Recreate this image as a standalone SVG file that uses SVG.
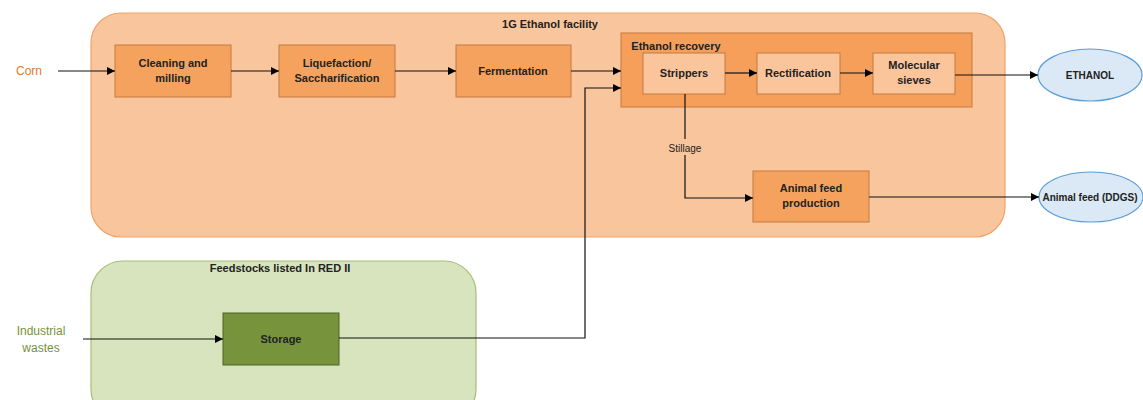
<svg xmlns="http://www.w3.org/2000/svg" width="1143" height="400" viewBox="0 0 1143 400">
<defs>
<marker id="ah" viewBox="0 0 10 10" refX="10" refY="5" markerWidth="10" markerHeight="8" markerUnits="userSpaceOnUse" orient="auto"><path d="M0,0 L10,5 L0,10 z" fill="#000"/></marker>
<style>
text{font-family:"Liberation Sans",Arial,sans-serif;font-size:11px;text-anchor:middle;fill:#222}
.b{font-weight:bold}
.proc{fill:#f5a25e;stroke:#c47a3e;stroke-width:1}
.sub{fill:#fbc59c;stroke:#c47a3e;stroke-width:1}
.ell{fill:#dae9f5;stroke:#5b9bd5;stroke-width:1.2}
.c{fill:none;stroke:#111;stroke-width:1.2;marker-end:url(#ah)}
.l{fill:none;stroke:#111;stroke-width:1.2}
</style>
</defs>
<rect width="1143" height="400" fill="#fff"/>
<g id="facility">
<rect x="91" y="13" width="914" height="224" rx="30" fill="#f9c59c" stroke="#f0a468" stroke-width="1.2"/>
<text x="550" y="28" class="b">1G Ethanol facility</text>
</g>
<g id="redii">
<rect x="91" y="261" width="385" height="160" rx="32" fill="#d7e4bd" stroke="#a6bd78" stroke-width="1.2"/>
<text x="280" y="272" class="b">Feedstocks listed In RED II</text>
</g>
<g id="corn"><text x="29" y="75" style="fill:#e07b2a;font-size:12px">Corn</text></g>
<g id="industrial"><text x="41" y="335" style="fill:#76923c;font-size:12px">Industrial</text><text x="41" y="352" style="fill:#76923c;font-size:12px">wastes</text></g>
<g id="cleaning"><rect class="proc" x="115" y="45" width="116" height="52"/><text x="173" y="67" class="b">Cleaning and</text><text x="173" y="82" class="b">milling</text></g>
<g id="liquefaction"><rect class="proc" x="279" y="45" width="116" height="52"/><text x="337" y="67" class="b">Liquefaction/</text><text x="337" y="82" class="b">Saccharification</text></g>
<g id="fermentation"><rect class="proc" x="456" y="45" width="115" height="52"/><text x="513" y="75" class="b">Fermentation</text></g>
<g id="recovery"><rect x="621" y="33" width="351" height="74" fill="#f59f5a" stroke="#c47a3e" stroke-width="1"/><text x="676" y="50" class="b">Ethanol recovery</text></g>
<g id="strippers"><rect class="sub" x="643" y="53" width="82" height="41"/><text x="684" y="77" class="b">Strippers</text></g>
<g id="rectification"><rect class="sub" x="757" y="53" width="83" height="41"/><text x="798" y="77" class="b">Rectification</text></g>
<g id="sieves"><rect class="sub" x="873" y="53" width="82" height="41"/><text x="914" y="69" class="b">Molecular</text><text x="914" y="84" class="b">sieves</text></g>
<g id="animalfeed"><rect class="proc" x="753" y="171" width="116" height="51"/><text x="811" y="192" class="b">Animal feed</text><text x="811" y="207" class="b">production</text></g>
<g id="storage"><rect x="223" y="313" width="116" height="52" fill="#77933c" stroke="#4f6228" stroke-width="1"/><text x="281" y="343" class="b">Storage</text></g>
<g id="ethanol"><ellipse class="ell" cx="1090" cy="75" rx="52" ry="26"/><text x="1090" y="79" class="b" style="font-size:10px">ETHANOL</text></g>
<g id="ddgs"><ellipse class="ell" cx="1091" cy="197" rx="52" ry="25"/><text x="1090" y="201" class="b" style="font-size:10px">Animal feed (DDGS)</text></g>
<g id="connectors">
<path class="c" d="M58,71 H115"/>
<path class="c" d="M231,71 H279"/>
<path class="c" d="M395,71 H456"/>
<path class="c" d="M571,71 H621"/>
<path class="c" d="M339,338 H585 V88 H621"/>
<path class="c" d="M725,73 H757"/>
<path class="c" d="M840,73 H873"/>
<path class="c" d="M955,75 H1038"/>
<path class="l" d="M685,94 V139"/>
<path class="c" d="M685,155 V198 H753"/>
<text x="685" y="152" style="font-size:10px">Stillage</text>
<path class="c" d="M869,197 H1039"/>
<path class="c" d="M83,339 H223"/>
</g>
</svg>
